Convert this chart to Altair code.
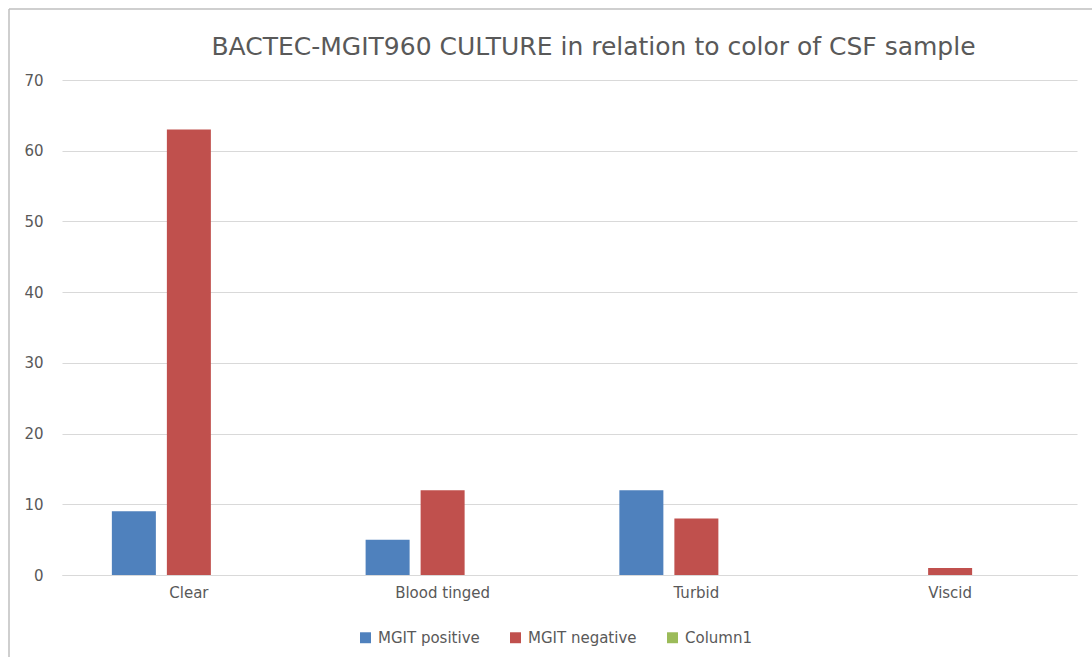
import altair as alt
import pandas as pd

categories = ["Clear", "Blood tinged", "Turbid", "Viscid"]
series_names = ["MGIT positive", "MGIT negative", "Column1"]
mgit_positive = [9, 5, 12, 0]
mgit_negative = [63, 12, 8, 1]
column1 = [0, 0, 0, 0]
colors = ["#4F81BD", "#C0504D", "#9BBB59"]
y_ticks = [0, 10, 20, 30, 40, 50, 60, 70]

rows = []
for s, vals in zip(series_names, [mgit_positive, mgit_negative, column1]):
    for c, v in zip(categories, vals):
        rows.append({"category": c, "series": s, "value": v})
df = pd.DataFrame(rows)

FONT = "DejaVu Sans"
TXT = "#595959"
GRID = "#D9D9D9"

bars = alt.Chart(df).mark_bar().encode(
    x=alt.X("category:N", sort=categories,
            scale=alt.Scale(paddingInner=0.393, paddingOuter=0.1965),
            axis=alt.Axis(title=None, labelAngle=0, ticks=False, domainColor=GRID,
                          labelPadding=10, grid=False)),
    xOffset=alt.XOffset("series:N", sort=series_names,
                        scale=alt.Scale(paddingInner=0.2, paddingOuter=0)),
    y=alt.Y("value:Q", scale=alt.Scale(domain=[0, 70]),
            axis=alt.Axis(title=None, values=y_ticks, domain=False, ticks=False,
                          labelPadding=19, gridColor=GRID)),
    color=alt.Color("series:N", sort=series_names,
                    scale=alt.Scale(domain=series_names, range=colors),
                    legend=alt.Legend(title=None, orient="none", direction="horizontal",
                                      legendX=296, legendY=550, symbolType="square",
                                      symbolSize=120, symbolStrokeWidth=0, labelOffset=5,
                                      columnPadding=28)),
)

frame_df = pd.DataFrame({"k": [0]})
left_border = alt.Chart(frame_df).mark_rule(color="#BFBFBF", strokeWidth=1.5).encode(
    x=alt.value(-53), y=alt.value(-71), y2=alt.value(600))
top_border = alt.Chart(frame_df).mark_rule(color="#BFBFBF", strokeWidth=1.5).encode(
    x=alt.value(-53), x2=alt.value(1100), y=alt.value(-71))

chart = alt.layer(bars, left_border, top_border).properties(
    width=1015, height=495,
    title=alt.TitleParams("BACTEC-MGIT960 CULTURE in relation to color of CSF sample",
                          font=FONT, fontSize=25, fontWeight="normal", color=TXT,
                          anchor="middle", dx=24, offset=-52),
    autosize=alt.AutoSizeParams(type="none"),
    padding={"left": 62, "top": 80, "right": 15, "bottom": 82},
    background="white",
).configure_view(stroke=None).configure_axis(
    labelFont=FONT, labelFontSize=15, labelColor=TXT
).configure_legend(
    labelFont=FONT, labelFontSize=15, labelColor=TXT
)

chart.save("out.html", embed_options={"renderer": "svg", "actions": False})
